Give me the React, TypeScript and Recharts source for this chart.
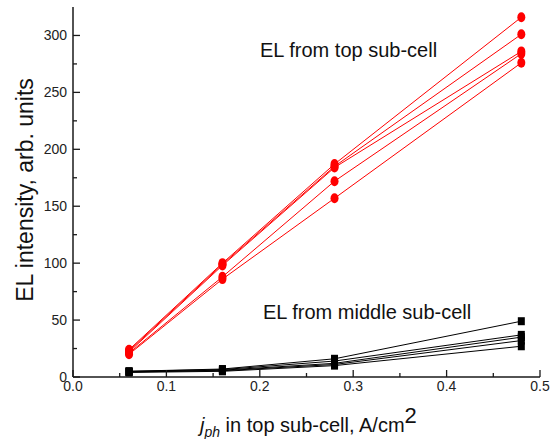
import React from "react";
import { Line, LineChart, XAxis, YAxis } from "recharts";

const currents = [0.06, 0.16, 0.28, 0.48];

const topCell1 = [24, 100, 187, 316];
const topCell2 = [23, 99, 185, 301];
const topCell3 = [22, 98, 184, 286];
const topCell4 = [21, 88, 172, 284];
const topCell5 = [20, 86, 157, 276];

const midCell1 = [5, 7, 16, 49];
const midCell2 = [5, 6.5, 14, 37];
const midCell3 = [4.5, 6, 12, 35];
const midCell4 = [4.5, 5.5, 11, 32];
const midCell5 = [4, 5, 10, 27];

const xTicks = [0, 0.05, 0.1, 0.15, 0.2, 0.25, 0.3, 0.35, 0.4, 0.45, 0.5];
const yTicks = [0, 25, 50, 75, 100, 125, 150, 175, 200, 225, 250, 275, 300];

const topSeries = [topCell1, topCell2, topCell3, topCell4, topCell5];
const midSeries = [midCell1, midCell2, midCell3, midCell4, midCell5];

const data = currents.map((x, i) => {
  const row: Record<string, number> = { x };
  topSeries.forEach((s, k) => (row[`t${k}`] = s[i]));
  midSeries.forEach((s, k) => (row[`m${k}`] = s[i]));
  return row;
});

const FONT = '"Liberation Sans", Arial, sans-serif';
const AXIS = "#1a1a1a";
const RED = "#ff0000";

function XTick(props: any) {
  const { x, y, payload } = props;
  const v = Number(payload.value);
  const major = Math.abs(v * 10 - Math.round(v * 10)) < 1e-6;
  return (
    <g>
      <line x1={x} y1={y} x2={x} y2={y - (major ? 7 : 4)} stroke={AXIS} strokeWidth={1.3} />
      {major && (
        <text x={x} y={y + 14} textAnchor="middle" fontSize={14} fontFamily={FONT} fill="#222">
          {v.toFixed(1)}
        </text>
      )}
    </g>
  );
}

function YTick(props: any) {
  const { x, y, payload } = props;
  const v = Number(payload.value);
  const major = v % 50 === 0;
  return (
    <g>
      <line x1={x} y1={y} x2={x + (major ? 7 : 4)} y2={y} stroke={AXIS} strokeWidth={1.3} />
      {major && (
        <text x={x - 6} y={y} dy="0.35em" textAnchor="end" fontSize={14} fontFamily={FONT} fill="#222">
          {v}
        </text>
      )}
    </g>
  );
}

function RedDot(props: any) {
  const { cx, cy, index } = props;
  return <ellipse key={index} cx={cx} cy={cy} rx={4} ry={5} fill={RED} />;
}

function BlackDot(props: any) {
  const { cx, cy, index } = props;
  return <rect key={index} x={cx - 3.5} y={cy - 4} width={7} height={8} fill="#000" />;
}

export default function App() {
  return (
    <div style={{ position: "absolute", left: 0, top: 0, width: 551, height: 439, background: "#fff" }}>
      <LineChart width={551} height={439} data={data} margin={{ top: 7, right: 11, bottom: 0, left: 0 }}>
        <XAxis
          dataKey="x"
          type="number"
          domain={[0, 0.5]}
          ticks={xTicks}
          interval={0}
          tickSize={0}
          tickMargin={0}
          tick={XTick}
          height={62}
          axisLine={{ stroke: AXIS, strokeWidth: 1.5 }}
        />
        <YAxis
          type="number"
          domain={[0, 325]}
          ticks={yTicks}
          interval={0}
          tickSize={0}
          tickMargin={0}
          tick={YTick}
          width={73}
          axisLine={{ stroke: AXIS, strokeWidth: 1.5 }}
        />
        {midSeries.map((_, k) => (
          <Line
            key={`m${k}`}
            dataKey={`m${k}`}
            stroke="#000"
            strokeWidth={1}
            dot={BlackDot}
            activeDot={false}
            isAnimationActive={false}
          />
        ))}
        {topSeries.map((_, k) => (
          <Line
            key={`t${k}`}
            dataKey={`t${k}`}
            stroke={RED}
            strokeWidth={1}
            dot={RedDot}
            activeDot={false}
            isAnimationActive={false}
          />
        ))}
        <text x={260} y={57} fontSize={20} fontFamily={FONT} fill="#111">
          EL from top sub-cell
        </text>
        <text x={263} y={319} fontSize={20} fontFamily={FONT} fill="#111">
          EL from middle sub-cell
        </text>
        <text
          transform="translate(33,190) rotate(-90)"
          textAnchor="middle"
          fontSize={23}
          fontFamily={FONT}
          fill="#111"
        >
          EL intensity, arb. units
        </text>
        <text x={200} y={432} fontSize={20} fontFamily={FONT} fill="#111">
          <tspan fontStyle="italic">j</tspan>
          <tspan fontStyle="italic" fontSize={14} dy={5}>ph</tspan>
          <tspan dy={-5}> in top sub-cell, A/cm</tspan>
          <tspan dy={-9} fontSize={22}>2</tspan>
        </text>
      </LineChart>
    </div>
  );
}
